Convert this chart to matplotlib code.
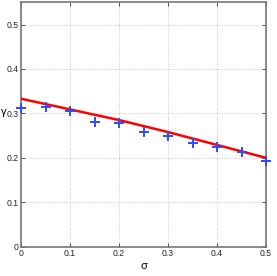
import matplotlib
matplotlib.use("Agg")
import matplotlib.pyplot as plt

# measured points (blue crosses)
sigma_pts = [0.0, 0.05, 0.1, 0.15, 0.2, 0.25, 0.3, 0.35, 0.4, 0.45, 0.5]
gamma_pts = [0.312, 0.314, 0.305, 0.281, 0.278, 0.259, 0.248, 0.233, 0.225, 0.213, 0.193]

# fitted curve (red line)
sigma_fit = [0.0, 0.1, 0.2, 0.3, 0.4, 0.5]
gamma_fit = [0.333, 0.309, 0.285, 0.258, 0.229, 0.200]

xticks = [0, 0.1, 0.2, 0.3, 0.4, 0.5]
xtick_labels = ["0", "0.1", "0.2", "0.3", "0.4", "0.5"]
yticks = [0, 0.1, 0.2, 0.3, 0.4, 0.5]
ytick_labels = ["0", "0.1", "0.2", "0.3", "0.4", "0.5"]

plt.rcParams["font.family"] = ["Liberation Sans", "DejaVu Sans"]

fig = plt.figure(figsize=(2.77, 2.76), dpi=100)
ax = fig.add_axes([21 / 277, 1 - 246.7 / 276, 245 / 277, 244.4 / 276])

ax.plot(sigma_fit, gamma_fit, color="#ff0000", lw=1.8, zorder=3)
ax.plot(sigma_pts, gamma_pts, "+", color="#2b4cff", ms=6.5, mew=1.4, zorder=4, clip_on=False)

ax.set_xlim(0, 0.5)
ax.set_ylim(0, 0.55)
ax.set_xticks(xticks)
ax.set_xticklabels(xtick_labels)
ax.set_yticks(yticks)
ax.set_yticklabels(ytick_labels)
ax.tick_params(direction="in", length=3, width=0.6, labelsize=6.2, pad=1.5,
               top=True, right=True, colors="#333333")
ax.tick_params(axis="x", labelcolor="#222222")
ax.tick_params(axis="y", labelcolor="#222222")

ax.grid(True, linestyle=(0, (1, 2)), color="#b5b5b5", lw=0.6)
for s in ax.spines.values():
    s.set_color("#777777")
    s.set_linewidth(1.2)

ax.set_xlabel("σ", fontsize=8, labelpad=2)
fig.text(4 / 277, 1 - 112 / 276, "γ", fontsize=8, ha="center", va="center")

fig.savefig("out.png", dpi=100)
